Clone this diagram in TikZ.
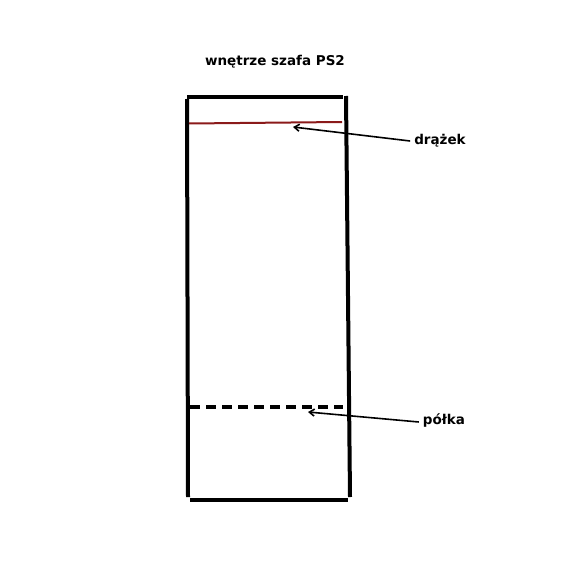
\documentclass[tikz,border=0pt]{standalone}
\usepackage{fontspec}
\setmainfont{DejaVu Sans}
\usetikzlibrary{arrows.meta}
\definecolor{rod}{HTML}{8B1A1A}
\tikzset{
  wall/.style={line width=4pt},
  label/.style={font=\bfseries\fontsize{13.5}{16}\selectfont, inner sep=1pt},
  pointer/.style={line width=1.6pt, -{Straight Barb[length=5pt,width=7pt]}},
}
\begin{document}
\begin{tikzpicture}[x=1pt,y=-1pt]
\useasboundingbox (0,0) rectangle (580,580);
\fill[white] (0,0) rectangle (580,580);
\node[label] (title) at (275,62) {wnętrze szafa PS2};
% wardrobe
\draw[wall] (187,97) -- (343,97);
\draw[wall] (187,99) -- (188,497);
\draw[wall] (346,96) -- (350,497);
\draw[wall] (190,500) -- (348,500);
% rod
\draw[rod, line width=2pt] (189,123.5) -- (342,122);
% shelf
\draw[wall, dash pattern=on 10pt off 6pt] (190,407) -- (343,407);
% labels
\node[label] (drazek) at (440,141) {drążek};
\node[label] (polka) at (444,421) {półka};
\coordinate (rodpt) at (293,127);
\coordinate (shelfpt) at (308,412);
\draw[pointer] (drazek.west) ++(-3,0) -- (rodpt);
\draw[pointer] (polka.west) ++(-3,1) -- (shelfpt);
\end{tikzpicture}
\end{document}
